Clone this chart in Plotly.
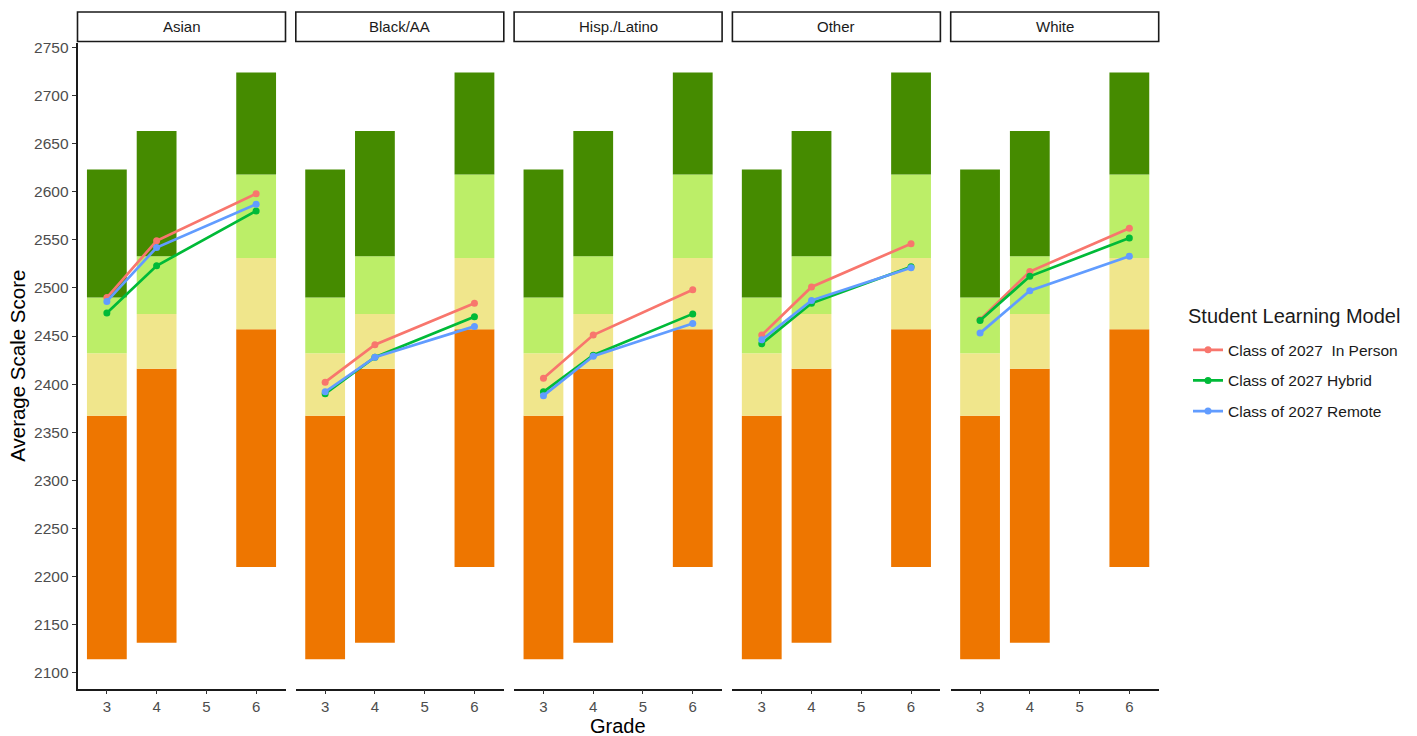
import plotly.graph_objects as go

# ---------------- data ----------------
groups = ["Asian", "Black/AA", "Hisp./Latino", "Other", "White"]
grades = [3, 4, 6]

# achievement-level cut scores per grade
loss = [2114, 2131, 2210]
level2 = [2367, 2416, 2457]
level3 = [2432, 2473, 2531]
level4 = [2490, 2533, 2618]
hoss = [2623, 2663, 2724]

model_names = ["Class of 2027  In Person", "Class of 2027 Hybrid", "Class of 2027 Remote"]
in_person = [
    [2490, 2549, 2598],
    [2402, 2441, 2484],
    [2406, 2451, 2498],
    [2451, 2501, 2546],
    [2467, 2517, 2562],
]
hybrid = [
    [2474, 2523, 2580],
    [2390, 2428, 2470],
    [2392, 2430, 2473],
    [2442, 2484, 2522],
    [2466, 2512, 2552],
]
remote = [
    [2486, 2542, 2587],
    [2392, 2428, 2460],
    [2388, 2429, 2463],
    [2446, 2487, 2521],
    [2453, 2497, 2533],
]

# ---------------- styles ----------------
W, H = 1417, 736
band_colors = ["#EE7600", "#F0E68C", "#BCEE68", "#458B00"]
line_colors = ["#F8766D", "#00BA38", "#619CFF"]
font_family = "Liberation Sans, Arial, sans-serif"

panel_left0 = 77.5
panel_w = 208.0
panel_step = 218.3
panel_top = 39.3
panel_bottom = 688.3
strip_top = 8.0
strip_bottom = 37.7


def px(x):
    return x / W


def py(y):
    return 1 - y / H


fig = go.Figure()
bounds = [loss, level2, level3, level4, hoss]
series = [in_person, hybrid, remote]

for i, g in enumerate(groups):
    xa = "x" if i == 0 else f"x{i+1}"
    ya = "y" if i == 0 else f"y{i+1}"
    for b in range(4):
        lo = bounds[b]
        hi = bounds[b + 1]
        fig.add_trace(go.Bar(
            x=grades, base=lo, y=[h - l for h, l in zip(hi, lo)],
            width=0.8, marker=dict(color=band_colors[b], line=dict(width=0)),
            showlegend=False, hoverinfo="skip", xaxis=xa, yaxis=ya,
        ))
    for m in range(3):
        fig.add_trace(go.Scatter(
            x=grades, y=series[m][i], mode="lines+markers",
            line=dict(color=line_colors[m], width=2.7),
            marker=dict(color=line_colors[m], size=7),
            name=model_names[m], legendgroup=model_names[m],
            showlegend=(i == 0), xaxis=xa, yaxis=ya,
        ))

layout = dict(
    width=W, height=H,
    margin=dict(l=0, r=0, t=0, b=0),
    paper_bgcolor="white", plot_bgcolor="white",
    barmode="overlay",
    font=dict(family=font_family, color="#1A1A1A"),
    legend=dict(
        x=px(1188), y=py(331), xanchor="left", yanchor="top",
        font=dict(size=15.5, color="#1A1A1A"),
        tracegroupgap=7.5, traceorder="grouped",
        bgcolor="rgba(0,0,0,0)",
    ),
)

shapes = []
annotations = []
for i, g in enumerate(groups):
    left = panel_left0 + i * panel_step
    right = left + panel_w
    xkey = "xaxis" if i == 0 else f"xaxis{i+1}"
    ykey = "yaxis" if i == 0 else f"yaxis{i+1}"
    layout[xkey] = dict(
        domain=[px(left), px(right)], range=[2.41, 6.59],
        tickvals=[3, 4, 5, 6], ticktext=["3", "4", "5", "6"],
        ticks="outside", ticklen=4, tickwidth=1.2, tickcolor="#333333",
        showline=True, linecolor="#1A1A1A", linewidth=1.6,
        showgrid=False, zeroline=False,
        tickfont=dict(size=15, color="#4D4D4D"),
        anchor="y" if i == 0 else f"y{i+1}",
        fixedrange=True,
    )
    ydict = dict(
        domain=[py(panel_bottom), py(panel_top)], range=[2083.5, 2754.5],
        showgrid=False, zeroline=False,
        anchor="x" if i == 0 else f"x{i+1}",
        fixedrange=True,
    )
    if i == 0:
        ydict.update(
            tickvals=list(range(2100, 2751, 50)),
            ticks="outside", ticklen=4, tickwidth=1.2, tickcolor="#333333",
            showline=True, linecolor="#1A1A1A", linewidth=1.6,
            tickfont=dict(size=15.5, color="#4D4D4D"),
        )
    else:
        ydict.update(showticklabels=False, showline=False, ticks="", matches="y")
    layout[ykey] = ydict

    shapes.append(dict(
        type="rect", xref="paper", yref="paper",
        x0=px(left), x1=px(right), y0=py(strip_bottom), y1=py(strip_top),
        line=dict(color="#1A1A1A", width=1.6), fillcolor="white",
    ))
    annotations.append(dict(
        text=g, xref="paper", yref="paper",
        x=px((left + right) / 2), y=py((strip_top + strip_bottom) / 2),
        xanchor="center", yanchor="middle", showarrow=False,
        font=dict(size=15, color="#1A1A1A"),
    ))

annotations.append(dict(
    text="Student Learning Model", xref="paper", yref="paper",
    x=px(1186), y=py(314), xanchor="left", yanchor="middle", showarrow=False,
    font=dict(size=20, color="#1A1A1A"),
))
annotations.append(dict(
    text="Average Scale Score", xref="paper", yref="paper",
    x=px(18), y=py((panel_top + panel_bottom) / 2), textangle=-90,
    xanchor="center", yanchor="middle", showarrow=False,
    font=dict(size=20.5, color="#000000"),
))
annotations.append(dict(
    text="Grade", xref="paper", yref="paper",
    x=px((panel_left0 + 4 * panel_step + panel_w + panel_left0) / 2), y=py(726),
    xanchor="center", yanchor="middle", showarrow=False,
    font=dict(size=20, color="#000000"),
))

layout["shapes"] = shapes
layout["annotations"] = annotations
fig.update_layout(**layout)

fig.write_html("out.html")
